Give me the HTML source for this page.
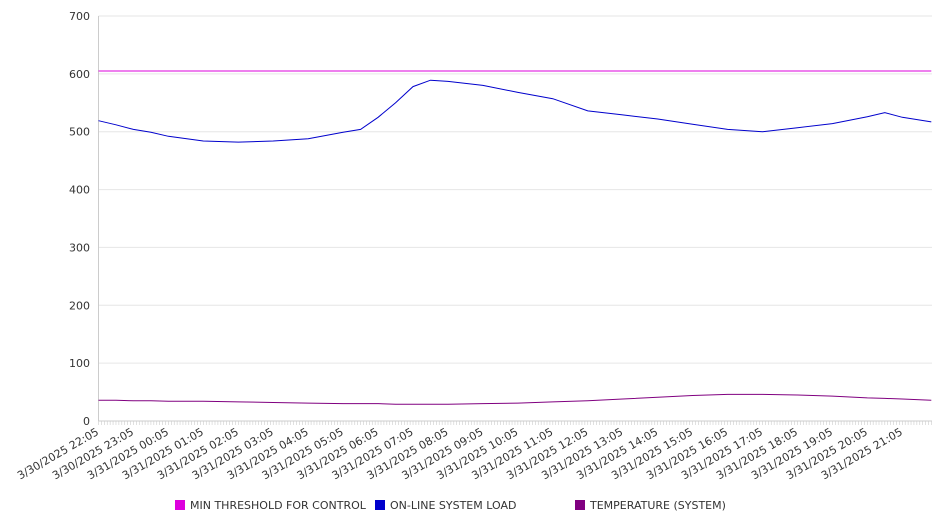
<!DOCTYPE html>
<html><head><meta charset="utf-8"><style>
body{margin:0;background:#fff;font-family:"DejaVu Sans","Liberation Sans",sans-serif}
svg text{font-family:"DejaVu Sans","Liberation Sans",sans-serif;fill:#333}
</style></head><body>
<svg id="chart" width="946" height="526" xmlns="http://www.w3.org/2000/svg">
<g id="grid"></g>
<g id="yaxis"></g>
<g id="xaxis"></g>
<g id="series"></g>
<g id="legend"></g>
</svg>
<script>
const hours = ["3/30/2025 22:05","3/30/2025 23:05","3/31/2025 00:05","3/31/2025 01:05","3/31/2025 02:05","3/31/2025 03:05","3/31/2025 04:05","3/31/2025 05:05","3/31/2025 06:05","3/31/2025 07:05","3/31/2025 08:05","3/31/2025 09:05","3/31/2025 10:05","3/31/2025 11:05","3/31/2025 12:05","3/31/2025 13:05","3/31/2025 14:05","3/31/2025 15:05","3/31/2025 16:05","3/31/2025 17:05","3/31/2025 18:05","3/31/2025 19:05","3/31/2025 20:05","3/31/2025 21:05"];
const yTicks = [0,100,200,300,400,500,600,700];
const sampleHours = [0,0.5,1,1.5,2,3,4,5,6,7,7.5,8,8.5,9,9.5,10,11,12,13,14,15,16,17,18,19,20,21,22,22.5,23,23.83];
const threshold = [605,605,605,605,605,605,605,605,605,605,605,605,605,605,605,605,605,605,605,605,605,605,605,605,605,605,605,605,605,605,605];
const load = [519,512,504,499,492,484,482,484,488,499,504,525,550,578,589,587,580,568,557,536,529,522,513,504,500,507,514,526,533,525,517];
const temp = [36,36,35,35,34,34,33,32,31,30,30,30,29,29,29,29,30,31,33,35,38,41,44,46,46,45,43,40,39,38,36];
const seriesNames = ["MIN THRESHOLD FOR CONTROL","ON-LINE SYSTEM LOAD","TEMPERATURE (SYSTEM)"];
const colors = ["#dd00dd","#0000cc","#800080"];

const NS="http://www.w3.org/2000/svg";
const X0=98.5, X1=932, Y0=421, Y1=16, maxH=23.85;
const x = h => X0 + h*(X1-X0)/maxH;
const y = v => Y0 - v*(Y0-Y1)/700;
function mk(t,a,p){const e=document.createElementNS(NS,t);for(const k in a)e.setAttribute(k,a[k]);p.appendChild(e);return e;}
const grid=document.getElementById('grid'), ya=document.getElementById('yaxis'), xa=document.getElementById('xaxis'), se=document.getElementById('series'), lg=document.getElementById('legend');
yTicks.forEach(v=>{
  const l=mk('line',{x1:X0,x2:X1,y1:y(v),y2:y(v),stroke:'#e6e6e6'},grid);
  
  
  const t=mk('text',{x:90,y:y(v)+4,'text-anchor':'end','font-size':11},ya);
  t.textContent=v;
  
  
});
mk('line',{x1:X0,x2:X0,y1:Y1,y2:Y0,stroke:'#ccc'},ya);
mk('line',{x1:X0,x2:X1,y1:Y0,y2:Y0,stroke:'#ccc'},xa);
for(let m=0;m<=maxH*12;m++){mk('line',{x1:x(m/12),x2:x(m/12),y1:Y0,y2:Y0+4,stroke:'#ccc','stroke-width':0.6},xa);}
hours.forEach((h,i)=>{
  const t=mk('text',{x:0,y:0,'text-anchor':'end','font-size':11,transform:`translate(${x(i)+1},${Y0+13}) rotate(-30)`},xa);
  t.textContent=h;
  
  
});
[threshold,load,temp].forEach((d,i)=>{
  const pts=d.map((v,j)=>x(sampleHours[j]).toFixed(1)+','+y(v).toFixed(1)).join(' ');
  const p=mk('polyline',{points:pts,fill:'none',stroke:colors[i],'stroke-width':1},se);
  
  
});
const lx=[175,375,575];
seriesNames.forEach((n,i)=>{
  const g=mk('g',{},lg);
  
  
  mk('rect',{x:lx[i],y:500,width:10,height:10,fill:colors[i]},g);
  const t=mk('text',{x:lx[i]+15,y:509,'font-size':11},g);
  t.textContent=n;
});
</script>
</body></html>
